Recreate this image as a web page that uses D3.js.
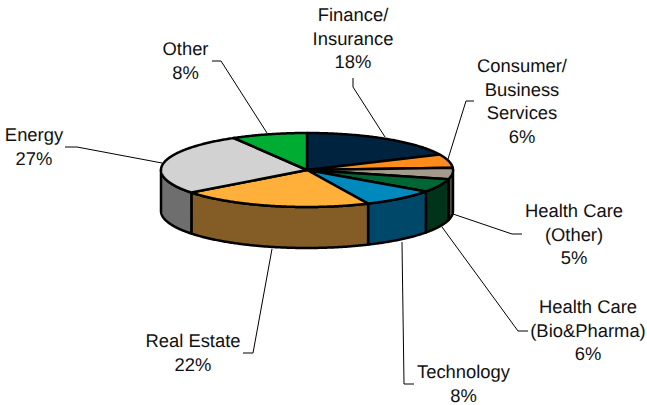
<!DOCTYPE html>
<html>
<head>
<meta charset="utf-8">
<script src="https://cdn.jsdelivr.net/npm/d3@7/dist/d3.min.js"></script>
<style>
html,body{margin:0;padding:0;background:#fff;overflow:hidden}
svg{display:block}
text{font-family:"Liberation Sans",Arial,sans-serif;font-size:18.4px;fill:#111;text-anchor:middle;text-rendering:geometricPrecision}
</style>
</head>
<body>
<svg id="c" width="647" height="405"></svg>
<script>
// Data
const categories = ["Finance/\nInsurance","Consumer/\nBusiness\nServices","Health Care\n(Other)","Health Care\n(Bio&Pharma)","Technology","Real Estate","Energy","Other"];
const shareLabels = ["18%","6%","5%","6%","8%","22%","27%","8%"];
const shares = [18.2,5.9,5.0,5.9,8.3,21.5,27.2,8.4];
const topColors = ["#00243f","#ff8c1a","#a59b8c","#006633","#0089bd","#ffb03b","#d2d2d2","#00ad33"];
const sideColors = ["#001220","#80460d","#4f4a42","#00331a","#00486a","#835c26","#6e6e6e","#005619"];

// Layout (separate from data)
const cx = 307, cy = 170, rx = 146, ry = 37, depth = 41;
const labelCentres = [353,522,574,588,463.5,193,34,185.5];
const labelBaselines = [21,72,217,313,378,347,141,55];
const lineGap = 23.6;
const leaders = [
  [[353,78],[353,87],[385,137]],
  [[474,101],[466,101],[448,159]],
  [[522,234],[512,234],[453,214]],
  [[528,331],[518,331],[442,227]],
  [[414,384],[404,384],[402,242]],
  [[243,353],[253,353],[272,249]],
  [[65,147],[77,147],[162,163]],
  [[212,61],[221,61],[267,133]]
];

const svg = d3.select("#c");
const pie = d3.pie().sort(null).value(d => d);
const arcs = pie(shares);

const x = d3.scaleLinear().domain([-1,1]).range([cx-rx,cx+rx]);
const y = d3.scaleLinear().domain([-1,1]).range([cy-ry,cy+ry]);
const px = a => x(Math.sin(a));
const py = (a,z) => y(-Math.cos(a)) + z;
const line = d3.line().x(d => d.x).y(d => d.y);
const rim = (a0,a1,z) => {
  const n = Math.max(2, Math.ceil(Math.abs(a1-a0)/0.01));
  return d3.range(n+1).map(i => {
    const a = a0+(a1-a0)*i/n;
    return {x:px(a), y:py(a,z)};
  });
};

// Side walls: only the front half of the rim is visible
const walls = arcs.map((d,i) => ({
  a0: Math.max(d.startAngle, Math.PI/2),
  a1: Math.min(d.endAngle, 3*Math.PI/2),
  i
})).filter(d => d.a1 > d.a0);

svg.append("g").selectAll("path").data(walls).join("path")
  .attr("d", d => line(rim(d.a0,d.a1,0).concat(rim(d.a1,d.a0,depth))) + "Z")
  .attr("fill", d => sideColors[d.i])
  .attr("stroke", "#000").attr("stroke-width", 2.5).attr("stroke-linejoin","round");

// Top faces
svg.append("g").selectAll("path").data(arcs).join("path")
  .attr("d", d => line([{x:cx,y:cy}].concat(rim(d.startAngle,d.endAngle,0))) + "Z")
  .attr("fill", (d,i) => topColors[i])
  .attr("stroke", "#000").attr("stroke-width", 2.5).attr("stroke-linejoin","round");

// Leader lines
svg.append("g").selectAll("path").data(leaders).join("path")
  .attr("d", d3.line())
  .attr("fill","none").attr("stroke","#000").attr("stroke-width",1);

// Labels
const labels = svg.append("g").selectAll("text").data(categories).join("text")
  .attr("x", (d,i) => labelCentres[i])
  .attr("y", (d,i) => labelBaselines[i]);
labels.each(function(d,i){
  const lines = d.split("\n").concat(shareLabels[i]);
  d3.select(this).selectAll("tspan").data(lines).join("tspan")
    .attr("x", labelCentres[i])
    .attr("y", (t,j) => labelBaselines[i] + j*lineGap)
    .text(t => t);
});
</script>
</body>
</html>
